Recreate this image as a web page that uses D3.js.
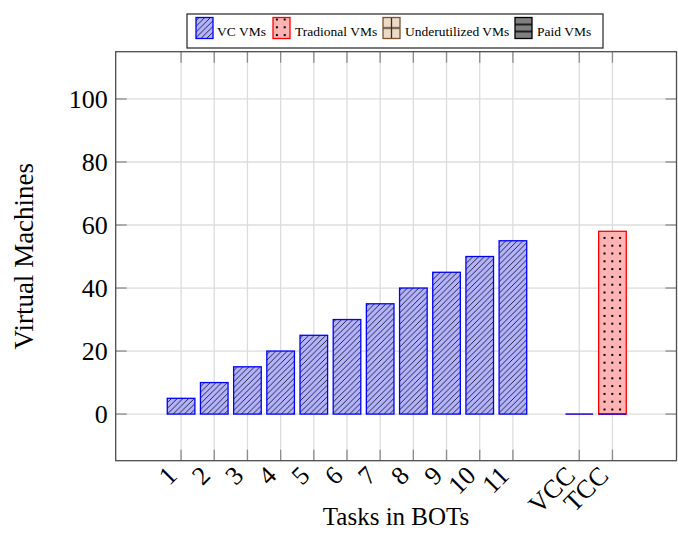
<!DOCTYPE html>
<html>
<head>
<meta charset="utf-8">
<script src="https://cdn.jsdelivr.net/npm/d3@7"></script>
<style>
  html, body { margin: 0; padding: 0; background: #fff; }
  svg { display: block; font-family: "Liberation Serif", "Times New Roman", serif; }
</style>
</head>
<body>
<svg id="chart" width="678" height="534"></svg>
<script>
// ---- data ----
const categories = ["1","2","3","4","5","6","7","8","9","10","11","VCC","TCC"];
const categoryX  = [1,2,3,4,5,6,7,8,9,10,11,13,14];
const vcVMs      = [5,10,15,20,25,30,35,40,45,50,55,0,0];
const tradVMs    = [null,null,null,null,null,null,null,null,null,null,null,0,58];
const underVMs   = [null,null,null,null,null,null,null,null,null,null,null,null,null];
const paidVMs    = [null,null,null,null,null,null,null,null,null,null,null,null,null];
const yTicks     = [0,20,40,60,80,100];
const legendLabels = ["VC VMs","Tradional VMs","Underutilized VMs","Paid VMs"];
const xTitle = "Tasks in BOTs";
const yTitle = "Virtual Machines";

// ---- layout ----
const L = 115.7, R = 676.5, T = 51.7, B = 460.7;
const svg = d3.select("#chart");
const x = d3.scaleLinear().domain([-0.97, 15.93]).range([L, R]);
const y = d3.scaleLinear().domain([-14.8, 115]).range([B, T]);
const barW = x(0.832) - x(0);

// ---- patterns ----
const defs = svg.append("defs");
const hatch = defs.append("pattern").attr("id","hatch").attr("patternUnits","userSpaceOnUse")
  .attr("width",5.7).attr("height",5.7);
hatch.append("rect").attr("width",5.7).attr("height",5.7).attr("fill","#b3b3ff");
hatch.append("path").attr("d","M-1,1 L1,-1 M0,5.7 L5.7,0 M4.7,6.7 L6.7,4.7")
  .attr("stroke","#000").attr("stroke-width",0.8);

const dots = defs.append("pattern").attr("id","dots").attr("patternUnits","userSpaceOnUse")
  .attr("width",7.8).attr("height",7.8);
dots.append("rect").attr("width",7.8).attr("height",7.8).attr("fill","#ffb3b3");
dots.append("rect").attr("x",2.9).attr("y",2.9).attr("width",2).attr("height",2).attr("fill","#000");

const grid = defs.append("pattern").attr("id","gridp").attr("patternUnits","objectBoundingBox")
  .attr("width",1).attr("height",1);
grid.append("rect").attr("width",17).attr("height",21).attr("fill","#ecd9c6");
grid.append("path").attr("d","M8.5,0 V21 M0,10.5 H17").attr("stroke","#3d2a17").attr("stroke-width",1.3);

const hlines = defs.append("pattern").attr("id","hlines").attr("patternUnits","objectBoundingBox")
  .attr("width",1).attr("height",1);
hlines.append("rect").attr("width",17).attr("height",21).attr("fill","#808080");
hlines.append("path").attr("d","M0,7 H17 M0,14 H17").attr("stroke","#000").attr("stroke-width",1.3);

// ---- grid ----
const gridColor = "#dcdcdc", tickColor = "#8c8c8c";
svg.append("g").selectAll("line").data(categoryX).join("line")
  .attr("x1", d => x(d)).attr("x2", d => x(d)).attr("y1", T).attr("y2", B)
  .attr("stroke", gridColor).attr("stroke-width", 1.3);
svg.append("g").selectAll("line").data(yTicks).join("line")
  .attr("x1", L).attr("x2", R).attr("y1", d => y(d)).attr("y2", d => y(d))
  .attr("stroke", gridColor).attr("stroke-width", 1.3);

// tick marks
const tk = 11;
const tg = svg.append("g").attr("stroke", tickColor).attr("stroke-width", 1.3);
categoryX.forEach(d => {
  tg.append("line").attr("x1", x(d)).attr("x2", x(d)).attr("y1", B).attr("y2", B - tk);
  tg.append("line").attr("x1", x(d)).attr("x2", x(d)).attr("y1", T).attr("y2", T + tk);
});
yTicks.forEach(d => {
  tg.append("line").attr("x1", L).attr("x2", L + tk).attr("y1", y(d)).attr("y2", y(d));
  tg.append("line").attr("x1", R).attr("x2", R - tk).attr("y1", y(d)).attr("y2", y(d));
});

// ---- bars ----
const rows = categories.map((c, i) => ({c, x: categoryX[i], vc: vcVMs[i], tr: tradVMs[i]}));
// traditional (stacked on VC)
svg.append("g").selectAll("rect").data(rows.filter(r => r.tr !== null && r.tr > 0)).join("rect")
  .attr("x", d => x(d.x) - barW/2)
  .attr("y", d => y((d.vc || 0) + d.tr))
  .attr("width", barW)
  .attr("height", d => y(d.vc || 0) - y((d.vc || 0) + d.tr))
  .attr("fill", "url(#dots)").attr("stroke", "#ff0000").attr("stroke-width", 1.3);
// VC bars
svg.append("g").selectAll("rect").data(rows.filter(r => r.vc > 0)).join("rect")
  .attr("x", d => x(d.x) - barW/2)
  .attr("y", d => y(d.vc))
  .attr("width", barW)
  .attr("height", d => y(0) - y(d.vc))
  .attr("fill", "url(#hatch)").attr("stroke", "#0000ff").attr("stroke-width", 1.3);
// zero-height VC bars
svg.append("g").selectAll("line").data(rows.filter(r => r.vc === 0)).join("line")
  .attr("x1", d => x(d.x) - barW/2).attr("x2", d => x(d.x) + barW/2)
  .attr("y1", y(0)).attr("y2", y(0))
  .attr("stroke", "#2200dd").attr("stroke-width", 1.5);

// ---- frame ----
svg.append("rect").attr("x", L).attr("y", T).attr("width", R - L).attr("height", B - T)
  .attr("fill", "none").attr("stroke", "#4d4d4d").attr("stroke-width", 1.3);

// ---- tick labels ----
svg.append("g").selectAll("text").data(yTicks).join("text")
  .attr("x", L - 8).attr("y", d => y(d)).attr("dy", "0.35em")
  .attr("text-anchor", "end").attr("font-size", 26).attr("fill", "#000")
  .text(d => d);

svg.append("g").selectAll("text").data(rows).join("text")
  .attr("transform", d => `translate(${x(d.x) - 9},${B + 10}) rotate(-45)`)
  .attr("dy", "0.35em").attr("text-anchor", "end").attr("font-size", 26).attr("fill", "#000")
  .text(d => d.c);

// ---- axis titles ----
svg.append("text").attr("x", (L + R) / 2).attr("y", 525).attr("text-anchor", "middle")
  .attr("font-size", 25).attr("fill", "#000").text(xTitle);
svg.append("text").attr("transform", `translate(33,${(T + B) / 2}) rotate(-90)`)
  .attr("text-anchor", "middle").attr("font-size", 27).attr("fill", "#000").text(yTitle);

// ---- legend ----
const lg = svg.append("g");
lg.append("rect").attr("x", 187).attr("y", 14).attr("width", 416).attr("height", 34)
  .attr("fill", "#fff").attr("stroke", "#333").attr("stroke-width", 1.3);
const legendItems = [
  {label: legendLabels[0], sx: 196, tx: 217, fill: "url(#hatch)", stroke: "#0000ff"},
  {label: legendLabels[1], sx: 273, tx: 295, fill: "url(#dots)", stroke: "#ff0000"},
  {label: legendLabels[2], sx: 383, tx: 405, fill: "url(#gridp)", stroke: "#7a5230"},
  {label: legendLabels[3], sx: 515, tx: 537, fill: "url(#hlines)", stroke: "#000"}
];
legendItems.forEach(it => {
  lg.append("rect").attr("x", it.sx).attr("y", 17.5).attr("width", 17).attr("height", 21)
    .attr("fill", it.fill).attr("stroke", it.stroke).attr("stroke-width", 1.3);
  lg.append("text").attr("x", it.tx).attr("y", 36).attr("font-size", 13.5).attr("fill", "#000")
    .text(it.label);
});
</script>
</body>
</html>
